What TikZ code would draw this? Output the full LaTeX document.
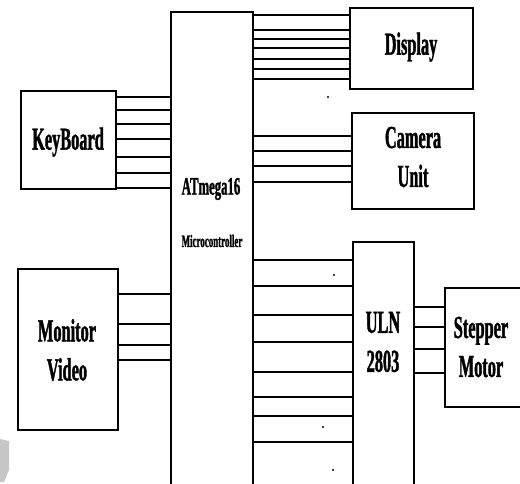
\documentclass[tikz,border=0pt]{standalone}
\usepackage{fontspec}
\newfontfamily\lblfont{Liberation Serif}[FakeStretch=0.51,FakeBold=1.2]
\begin{document}
\begin{tikzpicture}[x=1pt,y=-1pt,
  box/.style={draw=black, line width=1.8pt, inner sep=0pt, outer sep=0pt, fill=none},
  wire/.style={draw=black, line width=2.3pt},
  lbl/.style={inner sep=0pt, align=center, font=\lblfont\bfseries\fontsize{32}{39}\selectfont},
  dotmark/.style={circle, fill=black, inner sep=0pt, minimum size=2.2pt}]
\useasboundingbox (0,0) rectangle (520,484);
% boxes
\node[box, minimum width=82pt, minimum height=478pt] (mc) at (212,251) {};
\node[box, minimum width=123pt, minimum height=81pt] (disp) at (411.5,48.5) {};
\node[box, minimum width=122pt, minimum height=96pt] (cam) at (413,161) {};
\node[box, minimum width=95pt, minimum height=98pt] (kb) at (68.5,140) {};
\node[box, minimum width=100pt, minimum height=161pt] (mon) at (68,349.5) {};
\node[box, minimum width=61pt, minimum height=248pt] (uln) at (383.5,366) {};
\node[box, minimum width=78pt, minimum height=119pt] (step) at (484,347.5) {};
% labels
\node[lbl] (kbt) at (68,142) {KeyBoard};
\node[lbl] (dispt) at (411,47) {Display};
\node[lbl] (camt) at (413,157) {Camera\\Unit};
\node[lbl] (mont) at (67,350) {Monitor\\Video};
\node[lbl] (ulnt) at (383,342) {ULN\\2803};
\node[lbl] (stept) at (481,347) {Stepper\\Motor};
\node[lbl, font=\lblfont\bfseries\fontsize{25}{28}\selectfont] (mct) at (211,189) {ATmega16};
\node[lbl, font=\lblfont\bfseries\fontsize{17.5}{19}\selectfont] (mcs) at (212,241) {Microcontroller};
% wires
\foreach \y in {15,30,39,48,59,69,79} \draw[wire] (mc.east |- 0,\y) -- (disp.west |- 0,\y);
\foreach \y in {136,151,166,182} \draw[wire] (mc.east |- 0,\y) -- (cam.west |- 0,\y);
\foreach \y in {97,110,124,139,157,173,188} \draw[wire] (kb.east |- 0,\y) -- (mc.west |- 0,\y);
\foreach \y in {294,324,345,360} \draw[wire] (mon.east |- 0,\y) -- (mc.west |- 0,\y);
\foreach \y in {260,286,315,342,372,397,416,442} \draw[wire] (mc.east |- 0,\y) -- (uln.west |- 0,\y);
\foreach \y in {307,327,349,373} \draw[wire] (uln.east |- 0,\y) -- (step.west |- 0,\y);
% stray dots
\node[dotmark] (d1) at (328,97) {};
\node[dotmark] (d2) at (334,275) {};
\node[dotmark] (d3) at (323,427) {};
\node[dotmark] (d4) at (333,470) {};
% grey artifact
\fill[gray!45] (0,439) -- (9,441) -- (9,470) -- (4,482) -- (0,482) -- cycle;
\end{tikzpicture}
\end{document}
